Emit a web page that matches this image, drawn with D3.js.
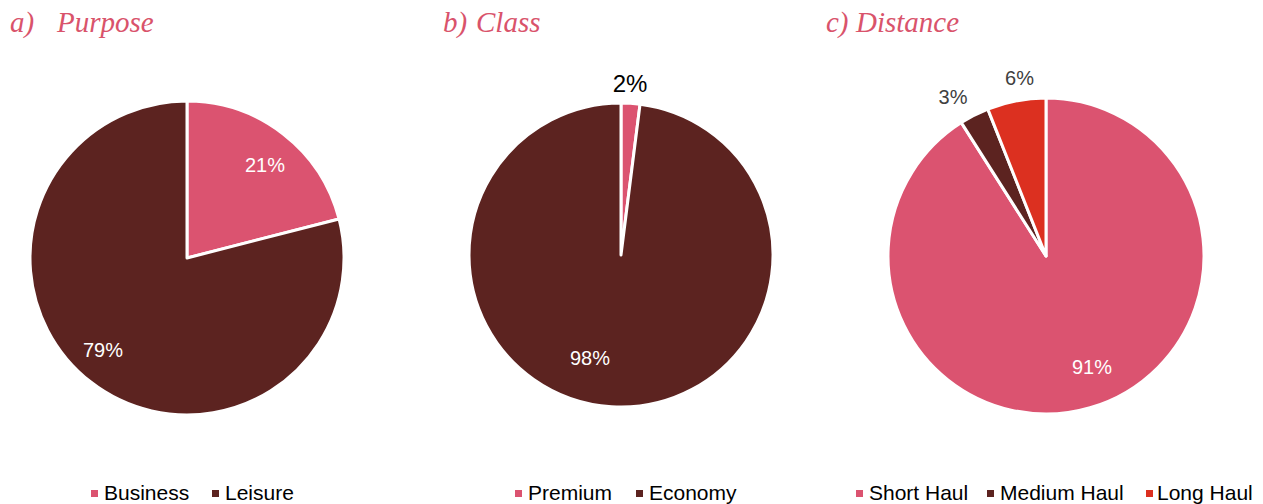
<!DOCTYPE html>
<html><head><meta charset="utf-8">
<script src="https://cdn.jsdelivr.net/npm/d3@7"></script>
<style>body{margin:0;background:#fff}</style>
</head><body>
<svg id="c" width="1263" height="504"></svg>
<script>
const purposeCats = ["Business","Leisure"];
const purposeVals = [21,79];
const classCats = ["Premium","Economy"];
const classVals = [2,98];
const distCats = ["Short Haul","Medium Haul","Long Haul"];
const distVals = [91,3,6];
const titlePrefixes = ["a)","b)","c)"];
const titleNames = ["Purpose","Class","Distance"];

const pink="#db5370", brown="#5c2320", red="#dc3020";
const svg=d3.select("#c");

const charts=[
 {cats:purposeCats,vals:purposeVals,colors:[pink,brown],cx:187,cy:258,r:157,tx:10,nx:57,
  labels:[{x:265,y:165,fill:"#fff",size:20},{x:103,y:349.5,fill:"#fff",size:20}],
  legend:[{mx:91,tx:104},{mx:212,tx:225}]},
 {cats:classCats,vals:classVals,colors:[pink,brown],cx:621,cy:255,r:152,tx:443,nx:476,
  labels:[{x:630,y:83,fill:"#000",size:24},{x:590,y:358,fill:"#fff",size:20}],
  legend:[{mx:515,tx:528},{mx:636,tx:649}]},
 {cats:distCats,vals:distVals,colors:[pink,brown,red],cx:1046,cy:256,r:158,tx:826,nx:856,
  labels:[{x:1092,y:367,fill:"#fff",size:20},{x:953,y:96.5,fill:"#404040",size:20},{x:1019.5,y:78,fill:"#404040",size:20}],
  legend:[{mx:856,tx:869},{mx:987,tx:1000},{mx:1146,tx:1157}]}
];

charts.forEach((ch,ci)=>{
  const t=svg.append("text").attr("y",32)
    .attr("font-family","Liberation Serif, serif").attr("font-style","italic")
    .attr("font-size",29).attr("fill","#d9536b");
  t.append("tspan").attr("x",ch.tx).text(titlePrefixes[ci]);
  t.append("tspan").attr("x",ch.nx).text(titleNames[ci]);
  const pie=d3.pie().sort(null).value(d=>d)(ch.vals);
  const arc=d3.arc().innerRadius(0).outerRadius(ch.r);
  const g=svg.append("g").attr("transform",`translate(${ch.cx},${ch.cy})`);
  g.selectAll("path").data(pie).join("path").attr("d",arc)
    .attr("fill",(d,i)=>ch.colors[i]).attr("stroke","#fff").attr("stroke-width",3).attr("stroke-linejoin","round");
  ch.vals.forEach((v,i)=>{
    const L=ch.labels[i];
    svg.append("text").attr("x",L.x).attr("y",L.y+0.358*L.size).attr("text-anchor","middle")
      .attr("font-family","Liberation Sans, Arial, sans-serif")
      .attr("font-size",L.size).attr("fill",L.fill).text(v+"%");
  });
  ch.cats.forEach((c,i)=>{
    const Lg=ch.legend[i];
    svg.append("rect").attr("x",Lg.mx).attr("y",490).attr("width",7).attr("height",7).attr("fill",ch.colors[i]);
    svg.append("text").attr("x",Lg.tx).attr("y",500).attr("font-family","Liberation Sans, Arial, sans-serif")
      .attr("font-size",21).attr("fill","#000").text(c);
  });
});
</script>
</body></html>
